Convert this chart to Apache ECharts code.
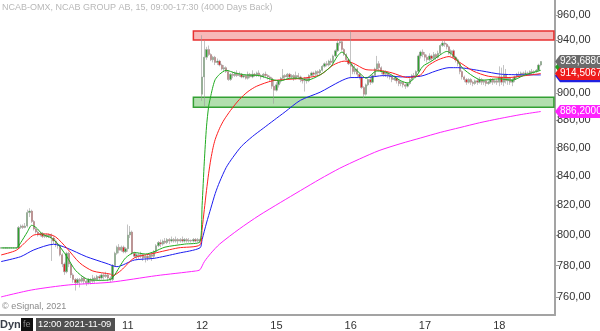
<!DOCTYPE html>
<html><head><meta charset="utf-8">
<script src="https://cdn.jsdelivr.net/npm/echarts/dist/echarts.min.js"></script>
<style>html,body{margin:0;padding:0;background:#fff}#c{width:600px;height:331px}</style>
</head><body><div id="c"></div>
<script>
// ---- session layout (15-minute bars) ----
const dayDates = ['2021-11-09','2021-11-10','2021-11-11','2021-11-12','2021-11-15','2021-11-16','2021-11-17','2021-11-18'];
const dayStart = ['11:30','09:00','09:00','09:00','09:00','09:00','09:00','09:00'];
const dayBars  = [24,34,34,34,34,34,34,20];
const labeledDays = ['11','12','15','16','17','18'];
const emptySlots = 6;

// ---- candles [open, close, low, high] ----
const nov09 = [[791.5,791.5,791,792],[791.5,791.5,791,792],[791.5,791.5,791,792],[791.5,791.5,791,792],[791.5,791.5,791,792],[791.5,791.5,791,792],[791.5,791.5,791,792],[791.5,791.5,791,792],
[791.5,805,791,806],[805,806,804,807],[806,805,804,807],[805,806,804.5,808],[806,815,805,817],[815,816,812,818],[816,809,808,817],[809,804,803,810],
[804,802,801,805],[802,800,799,803],[800,801,799,802],[801,799,798,802],[799,800,798,801],[800,799,798,801],[799,800,798,801],[800,798,783,801]];
const nov10 = [[798,796,794,799],[796,794,792,797],[794,793,791,795],[793,787,786,794],[787,781,779,788],[781,776,774,782],[776,788,775,789],[788,781,779,789],
[781,774,772,782],[774,771,769,775],[771,769,764,772],[769,771,768,772],[771,770,766,772],[770,772,769,773],[772,770,768,773],[770,769,767,771],
[769,771,768,772],[771,770,768,772],[770,772,769,774],[772,771,769,773],[771,773,770,774],[773,772,770,774],[772,774,771,775],[774,773,771,775],
[773,774,772,776],[774,772,770,775],[772,771,769,773],[771,780,770,781],[780,788,779,789],[788,792,787,793],[792,790,788,794],[790,792,789,793],[792,789,788,793],[789,791,788,792]];
const nov11 = [[791,800,789,807],[800,802,798,806],[802,788,787,803],[788,786,785,789],[786,787,784,788],[787,786,784,788],[786,787,785,789],[787,785,783,788],
[785,786,782,787],[786,785,783,787],[785,787,784,788],[787,786,783,788],[786,789,785,790],[789,793,788,794],[793,795,792,796],[795,794,792,797],
[794,796,793,797],[796,795,794,798],[795,797,794,798],[797,796,794,798],[796,797,795,799],[797,796,795,798],[796,797,795,799],[797,796,794,798],
[796,797,795,798],[797,796,795,799],[796,797,795,798],[797,796,795,798],[796,796.5,795,798],[796.5,796,795,797],[796,797,795,798],[797,796,795,798],[796,797,795,798],[797,796,795,797.5]];
const nov12 = [[899,912,894,944],[912,927,890,940],[927,933,925,935],[933,929,928,936],[929,925,924,930],[925,927,923,928],[927,923,921,928],[923,924,921,926],
[924,921,920,925],[921,918,917,922],[918,919,916,921],[919,916,915,920],[916,910,909,917],[910,914,909,915],[914,913,911,916],[913,915,912,916],
[915,913,912,917],[913,914,912,916],[914,912,911,915],[912,913,911,914],[913,911,910,914],[911,914,910,916],[914,912,911,915],[912,914,911,917],
[914,913,912,915],[913,915,912,916],[915,913,912,917],[913,912,910,914],[912,914,911,915],[914,913,911,916],[913,912,910,914],[912,911,909,913],[911,905,903,912],[905,902,892,910]];
const nov15 = [[902,906,901,908],[906,909,904,910],[909,911,907,912],[911,913,910,918],[913,912,910,914],[912,914,911,915],[914,912,910,915],[912,913,911,914],
[913,911,909,914],[911,913,910,916],[913,912,910,915],[912,910,908,913],[910,909,907,911],[909,911,901,912],[911,909,907,912],[909,913,908,914],
[913,915,912,916],[915,914,912,916],[914,916,913,917],[916,915,913,917],[915,917,914,918],[917,920,916,921],[920,922,919,923],[922,921,920,924],
[921,924,920,925],[924,923,921,926],[923,928,922,929],[928,932,927,933],[932,938,931,940],[938,939,936,941],[939,933,932,940],[933,929,928,934],[929,925,924,930],[925,922,921,926]];
const nov16 = [[922,920,911,947],[920,916,914,922],[916,918,914,921],[918,914,912,919],[914,912,910,915],[912,904,903,913],[904,899,896,905],[899,906,898,907],
[906,910,905,911],[910,908,906,912],[908,913,907,914],[913,918,912,919],[918,922,917,928],[922,919,917,924],[919,916,914,920],[916,914,912,917],
[914,915,912,917],[915,913,911,916],[913,912,910,914],[912,910,908,913],[910,911,909,913],[911,909,907,912],[909,907,905,910],[907,908,905,909],
[908,906,904,909],[906,905,903,907],[905,907,904,908],[907,910,906,911],[910,913,909,914],[913,912,911,915],[912,916,911,917],[916,928,915,929],[928,931,926,932],[931,929,927,933]];
const nov17 = [[929,927,924,931],[927,925,923,929],[925,928,924,930],[928,926,924,929],[926,929,925,931],[929,927,925,930],[927,930,926,932],[930,936,929,937],
[936,938,935,940],[938,937,935,939.5],[937,935,933,938],[935,930,929,936],[930,932,928,933],[932,927,926,933],[927,925,923,928],[925,922,920,926],
[922,916,914,923],[916,912,910,917],[912,910,908,913],[910,908,906,911],[908,910,907,911],[910,908,906,911],[908,907,905,909],[907,909,906,910],
[909,908,906,911],[908,910,907,912],[910,908,906,911],[908,909,906,910],[909,907,905,910],[907,908,906,909],[908,910,907,911],[910,908,906,911],[908,909,907,910],[909,908,906,910]];
const nov18 = [[908,912,905,920],[912,908,906,919],[908,914,905,921],[914,909,907,918],[909,911,906,912],[911,908,906,912],[908,910,905,911],[910,912,908,913],
[912,914,911,915],[914,913,912,916],[913,915,912,916],[915,914,913,916],[914,915,913,917],[915,914,913,916],[914,916,913,917],[916,915,914,918],
[915,916,914,917],[916,917,915,918],[917,921,916,922],[921,923.688,920,924]];

// ---- moving averages [barIndex, price] ----
const maGreen = [[0,791.5],[7,791.5],[9,795],[12,802],[14,806.5],[16,805],[19,800.5],[23,798],[26,794],[30,786],[34,777],[39,771.5],[45,770.5],[50,771],[52,774],[55,781],[57,785],[61,788.5],[66,787.5],[70,789],[75,792],[84,794],[91,795.5],
[92,820],[93,850],[94,875],[95,890],[96,898],[97,905],[98,910],[100,914],[103,917],[107,915],[112,913.5],[118,913],[124,910],[128,909],[132,911],[137,911],[140,909.5],[146,913.5],[151,920],[154,928],[156,931],[158,928],[161,920],[165,913.5],[167,911],[172,916.5],[177,915],[183,909],[186,907.5],[190,912.5],[193,920],[197,924],[202,930],[204,931.5],[208,926.5],[211,919],[216,912.5],[220,909.5],[228,910.5],[234,909.5],[239,913],[247,917]];
const maRed = [[0,786.9],[7,790],[12,796.5],[15,800],[21,800.7],[25,798.7],[30,791.5],[36,781.7],[42,776.5],[50,774.5],[51,773.5],[55,777],[61,785],[70,788],[81,791.5],[91,793.5],
[92,804],[93,817],[94,830],[95,842],[96,852],[97,860],[98,866],[100,874],[102,880],[105,887],[109,895],[113,901],[117,905],[124,909],[130,910],[138,911],[146,913.5],[152,921],[157,924],[161,922.5],[167,917.5],[173,917],[179,915],[186,911.5],[192,913.5],[195,920],[200,925],[205,927.5],[209,924],[216,916.5],[223,912.5],[232,911.5],[240,913],[247,914.5]];
const maBlue = [[0,782.6],[9,785.8],[15,790.2],[24,793.9],[30,791.5],[39,785.8],[48,781.5],[53,779.3],[61,783.6],[70,784.7],[81,788],[91,791.5],
[92,797],[94,808],[96,818],[98,828],[100,836],[103,846],[106,853],[110,861],[115,868],[120,874],[125,880],[130,886],[137,894.5],[146,900.5],[155,908.5],[160,911.5],[167,911.5],[175,913],[183,912],[192,912.5],[199,916.5],[205,919],[209,919],[220,916.5],[229,914],[247,913.5]];
const maMagenta = [[0,760],[14,764.4],[31,767.6],[50,769.3],[71,773.5],[89,776.5],[91,777.3],
[93,782.5],[96,788],[100,794],[109,804],[118,813],[128,822],[137,830],[146,838],[155,845.5],[164,852],[173,858],[183,863],[192,867],[201,871],[210,874.5],[219,878],[228,881],[238,884],[247,886.2]];

// ---- zones and axis ----
const resistZone = [940.3, 947.4];
const supportZone = [889.3, 896.7];
const yTicks = [760,780,800,820,840,860,880,900,920,940,960];
const tagValues = {last:923.688, green:919.6, red:914.50675, blue:912.8, magenta:886.2};
const tagTexts  = {last:'923,68800', green:'919,60000', red:'914,50675', blue:'912,80000', magenta:'886,20000'};

// ---- build categories ----
const categories = [];
const dayFirstIdx = {};
dayDates.forEach((d, k) => {
  const [hh, mm] = dayStart[k].split(':').map(Number);
  dayFirstIdx[categories.length] = d.slice(8);
  for (let b = 0; b < dayBars[k]; b++) {
    const t = hh*60 + mm + 15*b;
    categories.push(d + ' ' + String(Math.floor(t/60)).padStart(2,'0') + ':' + String(t%60).padStart(2,'0'));
  }
});
for (let e = 0; e < emptySlots; e++) categories.push('pad' + e);
const candles = [].concat(nov09, nov10, nov11, nov12, nov15, nov16, nov17, nov18);

const isLabeled = (i) => dayFirstIdx[i] !== undefined && labeledDays.includes(dayFirstIdx[i]);
const fmt = v => v.toFixed(2).replace('.', ',');
const FONT = '"Liberation Sans", Arial';

const chart = echarts.init(document.getElementById('c'), null, {renderer:'canvas'});
const lineS = (data, color) => ({type:'line', data, showSymbol:false, smooth:0.25, lineStyle:{color, width:1}, z:3, animation:false, silent:true});
chart.setOption({
  animation:false,
  grid:{left:0, right:45, top:0, bottom:16},
  xAxis:{type:'category', data:categories, boundaryGap:true,
    axisLine:{lineStyle:{color:'#a3a3a3', width:2}},
    axisTick:{interval:(i)=>isLabeled(i), length:4, lineStyle:{color:'#a3a3a3'}},
    axisLabel:{interval:(i)=>isLabeled(i), formatter:(v,i)=>dayFirstIdx[i]||'', color:'#333', fontSize:11, fontFamily:FONT, margin:5},
    splitLine:{show:false}},
  yAxis:{type:'log', logBase:10, position:'right', min:748.7, max:972.0,
    axisLine:{show:true, lineStyle:{color:'#a3a3a3', width:2}},
    axisTick:{show:true, customValues:yTicks, length:4, lineStyle:{color:'#a3a3a3'}},
    axisLabel:{customValues:yTicks, formatter:(v)=>fmt(v), color:'#333', fontSize:11, fontFamily:FONT, margin:2},
    splitLine:{show:false}},
  series:[
    {type:'candlestick', data:candles, barWidth:1.8, z:2,
      itemStyle:{color:'#2ea02e', color0:'#e02020', borderColor:'#9a9a9a', borderColor0:'#9a9a9a', borderWidth:0.6},
      markArea:{silent:true, data:[
        [{xAxis:88, yAxis:resistZone[0], itemStyle:{color:'rgba(244,160,160,0.75)', borderColor:'#e83030', borderWidth:1.5}},{xAxis:253, yAxis:resistZone[1]}],
        [{xAxis:88, yAxis:supportZone[0], itemStyle:{color:'rgba(170,220,165,0.9)', borderColor:'#33a033', borderWidth:1.5}},{xAxis:253, yAxis:supportZone[1]}]
      ]}},
    lineS(maMagenta,'#ff22ff'),
    lineS(maBlue,'#1c1cf0'),
    lineS(maRed,'#ff2020'),
    lineS(maGreen,'#1faa1f')
  ]
});

function tag(key, color, z) {
  const y = chart.convertToPixel({yAxisIndex:0}, tagValues[key]);
  return [
    {id:'tagp_'+key, type:'polygon', z:z, shape:{points:[[555,y],[560,y-6.5],[606,y-6.5],[606,y+6.5],[560,y+6.5]]}, style:{fill:color}},
    {id:'tagt_'+key, type:'text', z:z+0.5, x:560, y:y-5.5, style:{text:tagTexts[key], fill:'#fff', font:'10px ' + FONT}}
  ];
}
const graphics = [
  {id:'title', type:'text', x:2, y:3, style:{text:'NCAB-OMX, NCAB GROUP AB, 15, 09:00-17:30 (4000 Days Back)', fill:'#b8b8b8', font:'9px ' + FONT}},
  {id:'copy', type:'text', x:2, y:302, style:{text:'© eSignal, 2021', fill:'#8a8a8a', font:'9px ' + FONT}},
  {id:'dyn', type:'text', x:0, y:319, style:{text:'Dyn', fill:'#3a3f4a', font:'bold 11px ' + FONT}},
  {id:'icon', type:'rect', z:20, shape:{x:21, y:318, width:12, height:13}, style:{fill:'#111'}},
  {id:'icont', type:'text', z:21, x:23, y:320, style:{text:'fe', fill:'#888', font:'9px ' + FONT}},
  {id:'tbox', type:'rect', z:20, shape:{x:36, y:318, width:79, height:13}, style:{fill:'#505050'}},
  {id:'tboxt', type:'text', z:21, x:38, y:320, style:{text:'12:00 2021-11-09', fill:'#fff', font:'9.4px ' + FONT}}
].concat(tag('blue','#2020e0',30), tag('green','#22a022',32), tag('red','#ee1c1c',34), tag('last','#6b6b6b',36), tag('magenta','#ff22ff',38));
chart.setOption({graphic:graphics});
</script></body></html>
